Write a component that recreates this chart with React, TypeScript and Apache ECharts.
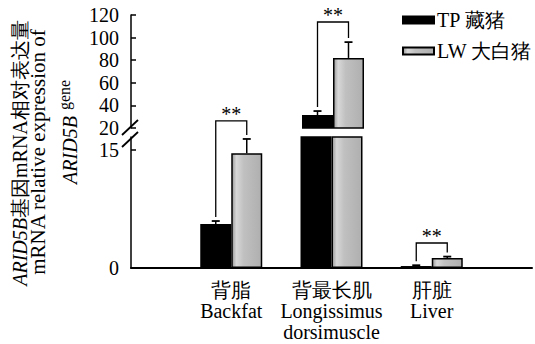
import React, { useEffect, useRef } from "react";
import * as echarts from "echarts";

const categories = ["", "背脂\nBackfat", "背最长肌\nLongissimus\ndorsimuscle", "肝脏\nLiver", ""];
const seriesNames = ["TP 藏猪", "LW 大白猪"];
const tpValues: (number | string)[] = ["-", 5.6, 31.5, 0.25, "-"];
const lwValues: (number | string)[] = ["-", 14.6, 82, 1.27, "-"];
const tpErrors = [0, 0.37, 3.5, 0.1, 0];
const lwErrors = [0, 1.8, 14, 0.18, 0];
const bracketTops: (number | null)[] = [null, 18.7, 113.8, 3.18, null];
const sigLabels = ["", "**", "**", "**", ""];
const lowerTicks = [0, 15];
const lowerMax = 16.65;
const upperMin = 20;
const upperMax = 120;
const upperStep = 20;

const SERIF = '"Liberation Serif", serif';
const BAR_W = 31;
const HALF = BAR_W / 2;

const grayFill = new echarts.graphic.LinearGradient(0, 0, 1, 0, [
  { offset: 0, color: "#9a9a9a" },
  { offset: 0.15, color: "#d8d8d8" },
  { offset: 0.4, color: "#c0c0c0" },
  { offset: 1, color: "#afafaf" },
]);

function isNum(v: any) {
  return typeof v === "number";
}

function errorItems(upper: boolean) {
  const items: number[][] = [];
  categories.forEach((_, i) => {
    const t = tpValues[i];
    const l = lwValues[i];
    if (isNum(t) && ((t as number) > lowerMax) === upper) items.push([i, t as number, tpErrors[i], -1]);
    if (isNum(l) && ((l as number) > lowerMax) === upper) items.push([i, l as number, lwErrors[i], 1]);
  });
  return items;
}

function bracketItems(upper: boolean) {
  const items: any[] = [];
  categories.forEach((_, i) => {
    const t = tpValues[i];
    const l = lwValues[i];
    const top = bracketTops[i];
    if (!isNum(t) || !isNum(l) || top == null) return;
    if (((l as number) > lowerMax) !== upper) return;
    items.push([i, (t as number) + tpErrors[i], (l as number) + lwErrors[i], top]);
  });
  return items;
}

function renderError(params: any, api: any) {
  const c = api.value(0);
  const v = api.value(1);
  const e = api.value(2);
  const side = api.value(3);
  const p0 = api.coord([c, v]);
  const p1 = api.coord([c, v + e]);
  const x = p0[0] + side * HALF;
  return {
    type: "group",
    children: [
      { type: "line", shape: { x1: x, y1: p0[1], x2: x, y2: p1[1] }, style: { stroke: "#000", lineWidth: 1.5 } },
      { type: "line", shape: { x1: x - 4, y1: p1[1], x2: x + 4, y2: p1[1] }, style: { stroke: "#000", lineWidth: 1.8 } },
    ],
  };
}

function renderBracket(params: any, api: any) {
  const c = api.value(0);
  const pl = api.coord([c, api.value(1)]);
  const pr = api.coord([c, api.value(2)]);
  const pt = api.coord([c, api.value(3)]);
  const xl = pl[0] - HALF;
  const xr = pl[0] + HALF;
  const gap = 4;
  return {
    type: "group",
    children: [
      {
        type: "polyline",
        shape: { points: [[xl, pl[1] - gap], [xl, pt[1]], [xr, pt[1]], [xr, pr[1] - gap]] },
        style: { stroke: "#000", lineWidth: 1.3, fill: "none" },
      },
      {
        type: "text",
        x: pl[0],
        y: pt[1] - 7,
        style: {
          text: sigLabels[c],
          fontSize: 20,
          fontFamily: SERIF,
          fill: "#000",
          align: "center",
          verticalAlign: "middle",
        },
      },
    ],
  };
}

export default function App() {
  const ref = useRef<HTMLDivElement>(null);
  useEffect(() => {
    if (!ref.current) return;
    const chart = echarts.init(ref.current, null, { renderer: "svg" });
    const axisLine = { show: true, lineStyle: { color: "#000", width: 1.5 } };
    const option: any = {
      animation: false,
      backgroundColor: "#fff",
      textStyle: { fontFamily: SERIF, color: "#000" },
      legend: {
        data: seriesNames,
        orient: "vertical",
        left: 402,
        top: 10,
        padding: 0,
        itemGap: 11,
        itemWidth: 31,
        itemHeight: 7,
        icon: "rect",
        textStyle: { fontSize: 20, fontFamily: SERIF, color: "#000", padding: [0, 0, 0, -2] },
      },
      grid: [
        { left: 131, top: 137, height: 131, width: 424 },
        { left: 131, top: 15, height: 113, width: 424 },
      ],
      xAxis: [
        {
          gridIndex: 0,
          type: "category",
          data: categories,
          boundaryGap: false,
          axisLine: { show: true, lineStyle: { color: "#000", width: 2 } },
          axisTick: { show: false },
          axisLabel: {
            interval: 0,
            margin: 11,
            fontSize: 20,
            lineHeight: 21,
            fontFamily: SERIF,
            color: "#000",
          },
        },
        {
          gridIndex: 1,
          type: "category",
          data: categories,
          boundaryGap: false,
          show: false,
        },
      ],
      yAxis: [
        {
          gridIndex: 0,
          type: "value",
          min: 0,
          max: lowerMax,
          interval: 15,
          axisLine,
          splitLine: { show: false },
          axisTick: { show: true, inside: true, length: 5, customValues: lowerTicks, lineStyle: { color: "#000", width: 1.5 } },
          axisLabel: { customValues: lowerTicks, fontSize: 20, fontFamily: SERIF, color: "#000", margin: 12 },
        },
        {
          gridIndex: 1,
          type: "value",
          min: upperMin,
          max: upperMax,
          interval: upperStep,
          axisLine,
          splitLine: { show: false },
          axisTick: { show: true, inside: true, length: 5, lineStyle: { color: "#000", width: 1.5 } },
          axisLabel: { fontSize: 20, fontFamily: SERIF, color: "#000", margin: 12 },
        },
      ],
      series: [
        {
          name: seriesNames[0],
          type: "bar",
          xAxisIndex: 0,
          yAxisIndex: 0,
          data: tpValues,
          barWidth: BAR_W,
          barGap: "0%",
          itemStyle: { color: "#000", borderColor: "#000", borderWidth: 1.5 },
        },
        {
          name: seriesNames[1],
          type: "bar",
          xAxisIndex: 0,
          yAxisIndex: 0,
          data: lwValues,
          barWidth: BAR_W,
          barGap: "0%",
          itemStyle: { color: grayFill, borderColor: "#000", borderWidth: 1.5 },
        },
        {
          name: seriesNames[0],
          type: "bar",
          xAxisIndex: 1,
          yAxisIndex: 1,
          data: tpValues,
          barWidth: BAR_W,
          barGap: "0%",
          itemStyle: { color: "#000", borderColor: "#000", borderWidth: 1.5 },
        },
        {
          name: seriesNames[1],
          type: "bar",
          xAxisIndex: 1,
          yAxisIndex: 1,
          data: lwValues,
          barWidth: BAR_W,
          barGap: "0%",
          itemStyle: { color: grayFill, borderColor: "#000", borderWidth: 1.5 },
        },
        {
          type: "custom",
          xAxisIndex: 0,
          yAxisIndex: 0,
          data: errorItems(false),
          renderItem: renderError,
          z: 5,
        },
        {
          type: "custom",
          xAxisIndex: 1,
          yAxisIndex: 1,
          data: errorItems(true),
          renderItem: renderError,
          z: 5,
        },
        {
          type: "custom",
          xAxisIndex: 0,
          yAxisIndex: 0,
          data: bracketItems(false),
          renderItem: renderBracket,
          clip: false,
          z: 5,
        },
        {
          type: "custom",
          xAxisIndex: 1,
          yAxisIndex: 1,
          data: bracketItems(true),
          renderItem: renderBracket,
          clip: false,
          z: 5,
        },
      ],
      graphic: [
        {
          type: "rect",
          shape: { x: 120, y: 129, width: 22, height: 7 },
          style: { fill: "#fff" },
          z: 100,
        },
        { type: "line", shape: { x1: 122, y1: 135, x2: 138, y2: 120 }, style: { stroke: "#000", lineWidth: 1.8 }, z: 101 },
        { type: "line", shape: { x1: 122, y1: 147, x2: 138, y2: 132 }, style: { stroke: "#000", lineWidth: 1.8 }, z: 101 },
        {
          type: "text",
          x: 20,
          y: 153,
          rotation: Math.PI / 2,
          style: {
            text: "{i|ARID5B}基因mRNA相对表达量",
            fontSize: 20,
            fontFamily: SERIF,
            fill: "#000",
            align: "center",
            verticalAlign: "middle",
            rich: { i: { fontStyle: "italic", fontSize: 20, fontFamily: SERIF, fill: "#000" } },
          },
        },
        {
          type: "text",
          x: 38,
          y: 152,
          rotation: Math.PI / 2,
          style: {
            text: "mRNA relative expression of",
            fontSize: 21,
            fontFamily: SERIF,
            fill: "#000",
            align: "center",
            verticalAlign: "middle",
          },
        },
        {
          type: "text",
          x: 70,
          y: 150,
          rotation: Math.PI / 2,
          style: {
            text: "ARID5B",
            fontSize: 20,
            fontStyle: "italic",
            fontFamily: SERIF,
            fill: "#000",
            align: "center",
            verticalAlign: "middle",
          },
        },
        {
          type: "text",
          x: 64,
          y: 95,
          rotation: Math.PI / 2,
          style: {
            text: "gene",
            fontSize: 16,
            fontFamily: SERIF,
            fill: "#000",
            align: "center",
            verticalAlign: "middle",
          },
        },
      ],
    };
    chart.setOption(option);
    return () => chart.dispose();
  }, []);
  return <div ref={ref} style={{ width: 535, height: 344, position: "absolute", left: 0, top: 0 }} />;
}
